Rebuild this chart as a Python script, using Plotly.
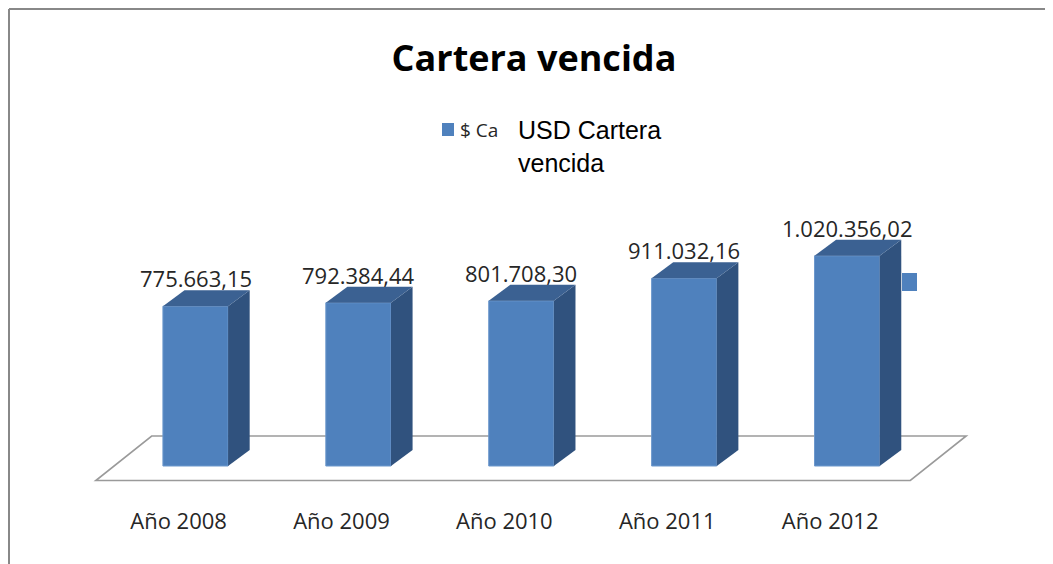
import plotly.graph_objects as go

# data
years = ["Año 2008", "Año 2009", "Año 2010", "Año 2011", "Año 2012"]
cartera = [775663.15, 792384.44, 801708.30, 911032.16, 1020356.02]
labels = ["775.663,15", "792.384,44", "801.708,30", "911.032,16", "1.020.356,02"]

OFF = 8                          # page body margin of the html page
W, H = 1053 - OFF, 564 - OFF
BOTTOM = 60                      # margin for the category labels
PLOT_H = H - BOTTOM

# pixel layout of the old excel picture (reference pixels)
X0_PX, STEP_PX = 195.5 - OFF, 162.9   # centre of first bar, spacing
BASE_PX, VAL_PER_PX = 466 - OFF, 4855  # bar base line, value units per pixel

FRONT = "#4F81BD"
SIDE = "#30527E"
TOP = "#3B6192"
FLOOR_LINE = "#9A9A9A"
TXT = "#262626"

BAR_W = 0.4
DEPTH_DX = 0.1326                # x shift of the bar's back face
DEPTH_DY = 16 * VAL_PER_PX       # y shift of the bar's back face

xr = [-X0_PX / STEP_PX, (W - X0_PX) / STEP_PX]
yr = [(BASE_PX - PLOT_H) * VAL_PER_PX, BASE_PX * VAL_PER_PX]


def px_x(p):
    return (p - OFF) / W


def px_y(p):
    return (PLOT_H - (p - OFF)) / PLOT_H


xs = list(range(len(years)))
fig = go.Figure()

# side and top faces
for x, v in zip(xs, cartera):
    r, l = x + BAR_W / 2, x - BAR_W / 2
    fig.add_trace(go.Scatter(
        x=[r, r + DEPTH_DX, r + DEPTH_DX, r, r],
        y=[0, DEPTH_DY, v + DEPTH_DY, v, 0],
        mode="lines", fill="toself", fillcolor=SIDE, line=dict(width=0),
        hoverinfo="skip", showlegend=False))
    fig.add_trace(go.Scatter(
        x=[l, r, r + DEPTH_DX, l + DEPTH_DX, l],
        y=[v, v, v + DEPTH_DY, v + DEPTH_DY, v],
        mode="lines", fill="toself", fillcolor=TOP, line=dict(width=0),
        hoverinfo="skip", showlegend=False))

# front faces
fig.add_trace(go.Bar(
    x=xs, y=cartera, width=BAR_W, name="$ Cartera vencida",
    marker=dict(color=FRONT, line=dict(color="#6C98CC", width=1)),
    showlegend=False))

# floor, under everything
f_front = (BASE_PX - (480.5 - OFF)) * VAL_PER_PX
f_back = (BASE_PX - (436 - OFF)) * VAL_PER_PX
fl, fr = -0.5, len(years) - 0.5
pts = [(fl - 0.112, f_front), (fr - 0.112, f_front), (fr + 0.231, f_back), (fl + 0.231, f_back)]
path = "M " + " L ".join(f"{a},{b}" for a, b in pts) + " Z"
fig.add_shape(type="path", path=path, xref="x", yref="y", layer="below",
              fillcolor="white", line=dict(color=FLOOR_LINE, width=1.6))

# value labels above the back edge
for x, v, t in zip(xs, cartera, labels):
    fig.add_annotation(x=x, y=v + DEPTH_DY, text=t, showarrow=False,
                       yanchor="middle", yshift=12,
                       font=dict(family="Open Sans", size=22, color=TXT))

# legend bits (clipped box in the original)
fig.add_shape(type="rect", xref="paper", yref="paper",
              x0=px_x(442), x1=px_x(454), y0=px_y(136), y1=px_y(123),
              fillcolor=FRONT, line=dict(width=0))
fig.add_annotation(xref="paper", yref="paper", x=px_x(458), y=px_y(130),
                   text="$ Ca", showarrow=False, xanchor="left", yanchor="middle",
                   font=dict(family="Open Sans", size=19, color=TXT))
fig.add_annotation(xref="paper", yref="paper", x=px_x(516), y=px_y(114),
                   text="USD Cartera<br>vencida", showarrow=False, align="left",
                   xanchor="left", yanchor="top",
                   font=dict(family="Liberation Sans", size=25, color="black"))
fig.add_shape(type="rect", xref="paper", yref="paper",
              x0=px_x(902), x1=px_x(917), y0=px_y(291), y1=px_y(273),
              fillcolor=FRONT, line=dict(width=0))

# frame (top and left edges only are visible)
EDGE = OFF + 1
fig.add_shape(type="line", xref="paper", yref="paper",
              x0=px_x(EDGE), x1=px_x(EDGE), y0=px_y(564), y1=px_y(EDGE),
              line=dict(color="#888888", width=2))
fig.add_shape(type="line", xref="paper", yref="paper",
              x0=px_x(EDGE), x1=px_x(1053), y0=px_y(EDGE), y1=px_y(EDGE),
              line=dict(color="#888888", width=2))

fig.update_layout(
    width=W, height=H,
    margin=dict(l=0, r=0, t=0, b=BOTTOM),
    paper_bgcolor="white", plot_bgcolor="white",
    title=dict(text="<b>Cartera vencida</b>", x=(534 - OFF) / W, xanchor="center",
               y=1 - (58 - OFF) / H, yanchor="middle",
               font=dict(family="Open Sans", size=36, color="black")),
    xaxis=dict(range=xr, showgrid=False, zeroline=False, showline=False,
               tickmode="array", tickvals=[x - 0.104 for x in xs], ticktext=years,
               ticks="", ticklabelstandoff=2,
               tickfont=dict(family="Open Sans", size=22, color=TXT)),
    yaxis=dict(range=yr, visible=False),
)

fig.write_html("out.html")
